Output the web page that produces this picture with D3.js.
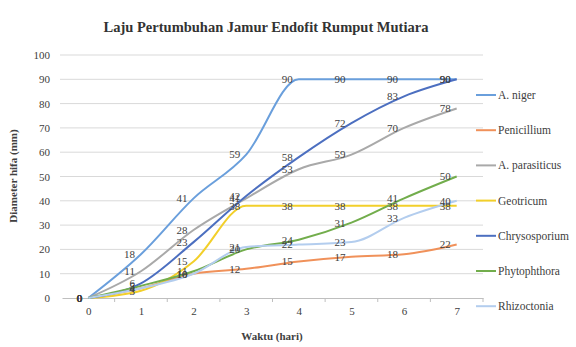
<!DOCTYPE html>
<html><head><meta charset="utf-8">
<script src="https://cdn.jsdelivr.net/npm/d3@7"></script>
<style>body{margin:0;background:#fff}svg{display:block}
svg text{font-family:"Liberation Serif","Times New Roman",serif;}</style>
</head><body><svg id="c" width="576" height="347"></svg>
<script>
const days = ["0","1","2","3","4","5","6","7"];
const yTicks = [0,10,20,30,40,50,60,70,80,90,100];
const seriesNames = ["A. niger","Penicillium","A. parasiticus","Geotricum","Chrysosporium","Phytophthora","Rhizoctonia"];
const aNiger       = [0, 18, 41, 59, 90, 90, 90, 90];
const penicillium  = [0, 4, 10, 12, 15, 17, 18, 22];
const aParasiticus = [0, 11, 28, 41, 53, 59, 70, 78];
const geotricum    = [0, 3, 15, 38, 38, 38, 38, 38];
const chrysosporium= [0, 6, 23, 42, 58, 72, 83, 90];
const phytophthora = [0, 5, 11, 20, 24, 31, 41, 50];
const rhizoctonia  = [0, 4, 10, 21, 22, 23, 33, 40];
const seriesValues = [aNiger, penicillium, aParasiticus, geotricum, chrysosporium, phytophthora, rhizoctonia];
const colors = ["#6a9fdc","#f0915a","#a9a9a9","#f2cf2a","#4c6fc0","#72ad4c","#b3cdee"];

const svg = d3.select("#c");
const x = d3.scalePoint().domain(days).range([62, 483]).padding(0.5);
const y = d3.scaleLinear().domain([0,100]).range([298, 55]);

// gridlines
svg.append("g").selectAll("line").data(yTicks.filter(d=>d>0)).join("line")
  .attr("x1",60).attr("x2",483).attr("y1",d=>y(d)).attr("y2",d=>y(d))
  .attr("stroke","#d9d9d9").attr("stroke-width",1);

// y axis
const ya = svg.append("g").attr("transform","translate(60,0)")
  .call(d3.axisLeft(y).tickValues(yTicks).tickSize(0).tickPadding(10));
ya.attr("font-family",null);
ya.select(".domain").remove();
ya.selectAll("text").attr("font-size",11).attr("fill","#404040");

// x axis
const step = x.step();
const xa = svg.append("g").attr("transform","translate(0,298)")
  .call(d3.axisBottom(x).tickSize(0).tickPadding(9));
xa.attr("font-family",null);
xa.select(".domain").attr("stroke","#bfbfbf");
xa.selectAll("text").attr("font-size",11).attr("fill","#404040");
svg.append("g").selectAll("line").data(days).join("line")
  .attr("x1",d=>x(d)+step/2).attr("x2",d=>x(d)+step/2).attr("y1",298).attr("y2",302)
  .attr("stroke","#bfbfbf");

// lines
const line = d3.line().x((d,i)=>x(days[i])).y(d=>y(d)).curve(d3.curveMonotoneX);
svg.append("g").selectAll("path").data(seriesValues).join("path")
  .attr("d",line).attr("fill","none").attr("stroke",(d,i)=>colors[i]).attr("stroke-width",2);

// data labels
seriesValues.forEach((vals,si)=>{
  svg.append("g").selectAll("text").data(vals).join("text")
    .attr("x",(d,i)=>x(days[i])-6).attr("y",d=>y(d)).attr("dy","0.35em")
    .attr("text-anchor","end").attr("font-size",11)
    .attr("fill","#404040").text(d=>d);
});

// title
svg.append("text").attr("x",266).attr("y",32).attr("text-anchor","middle")
  .attr("font-weight","bold").attr("font-size",14.5).attr("fill","#333")
  .text("Laju Pertumbuhan Jamur Endofit Rumput Mutiara");
// axis titles
svg.append("text").attr("transform","translate(17,176) rotate(-90)").attr("text-anchor","middle")
  .attr("font-weight","bold").attr("font-size",11).attr("fill","#404040")
  .text("Diameter hifa (mm)");
svg.append("text").attr("x",272).attr("y",340).attr("text-anchor","middle")
  .attr("font-weight","bold").attr("font-size",11).attr("fill","#404040")
  .text("Waktu (hari)");

// legend
const lg = svg.append("g").selectAll("g").data(seriesNames).join("g")
  .attr("transform",(d,i)=>`translate(476,${95 + i*35.2})`);
lg.append("line").attr("x1",0).attr("x2",20).attr("stroke",(d,i)=>colors[i]).attr("stroke-width",2);
lg.append("text").attr("x",22).attr("dy","0.35em").attr("font-size",11.5)
  .attr("fill","#404040").text(d=>d);
</script></body></html>
